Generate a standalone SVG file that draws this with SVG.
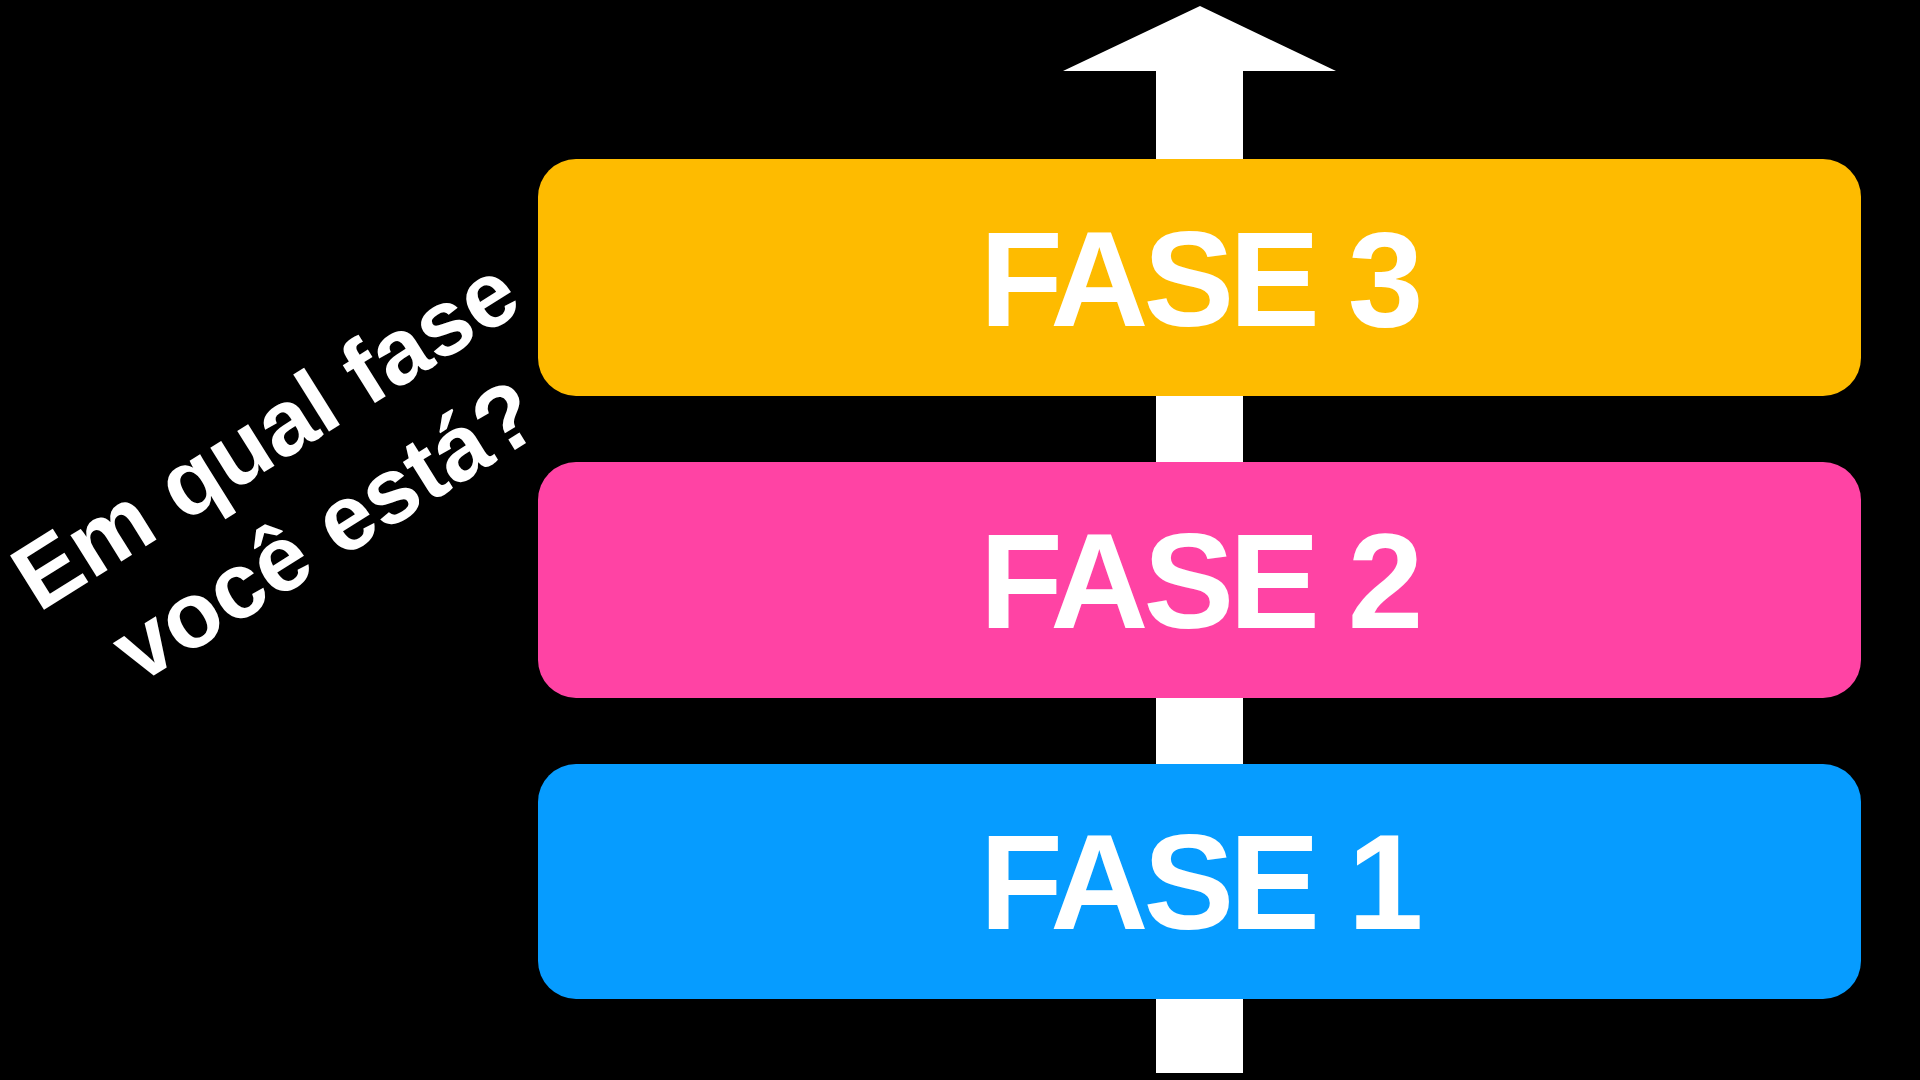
<svg xmlns="http://www.w3.org/2000/svg" width="1920" height="1080" viewBox="0 0 1920 1080">
<style>
.lbl{font-family:"Liberation Sans",Arial,sans-serif;font-weight:bold;fill:#fff;text-anchor:middle}
.big{font-size:136px;letter-spacing:-5px}
.q{font-size:93px}
</style>
<rect x="0" y="0" width="1920" height="1080" fill="#000"/>
<g id="connectors">
<polygon points="1200,6 1336,71 1243,71 1243,1073 1156,1073 1156,71 1063,71" fill="#fff"/>
</g>
<g id="fase3">
<rect x="538" y="159" width="1323" height="237" rx="38" fill="#FEBB00"/>
<text class="lbl big" x="1199" y="326">FASE 3</text>
</g>
<g id="fase2">
<rect x="538" y="462" width="1323" height="236" rx="38" fill="#FF43A4"/>
<text class="lbl big" x="1199" y="628">FASE 2</text>
</g>
<g id="fase1">
<rect x="538" y="764" width="1323" height="235" rx="38" fill="#069CFF"/>
<text class="lbl big" x="1199" y="929">FASE 1</text>
</g>
<g id="question" transform="translate(282,461) rotate(-32)">
<text class="lbl q" x="0" y="0">Em qual fase</text>
<text class="lbl q" x="0" y="114">você está?</text>
</g>
</svg>
